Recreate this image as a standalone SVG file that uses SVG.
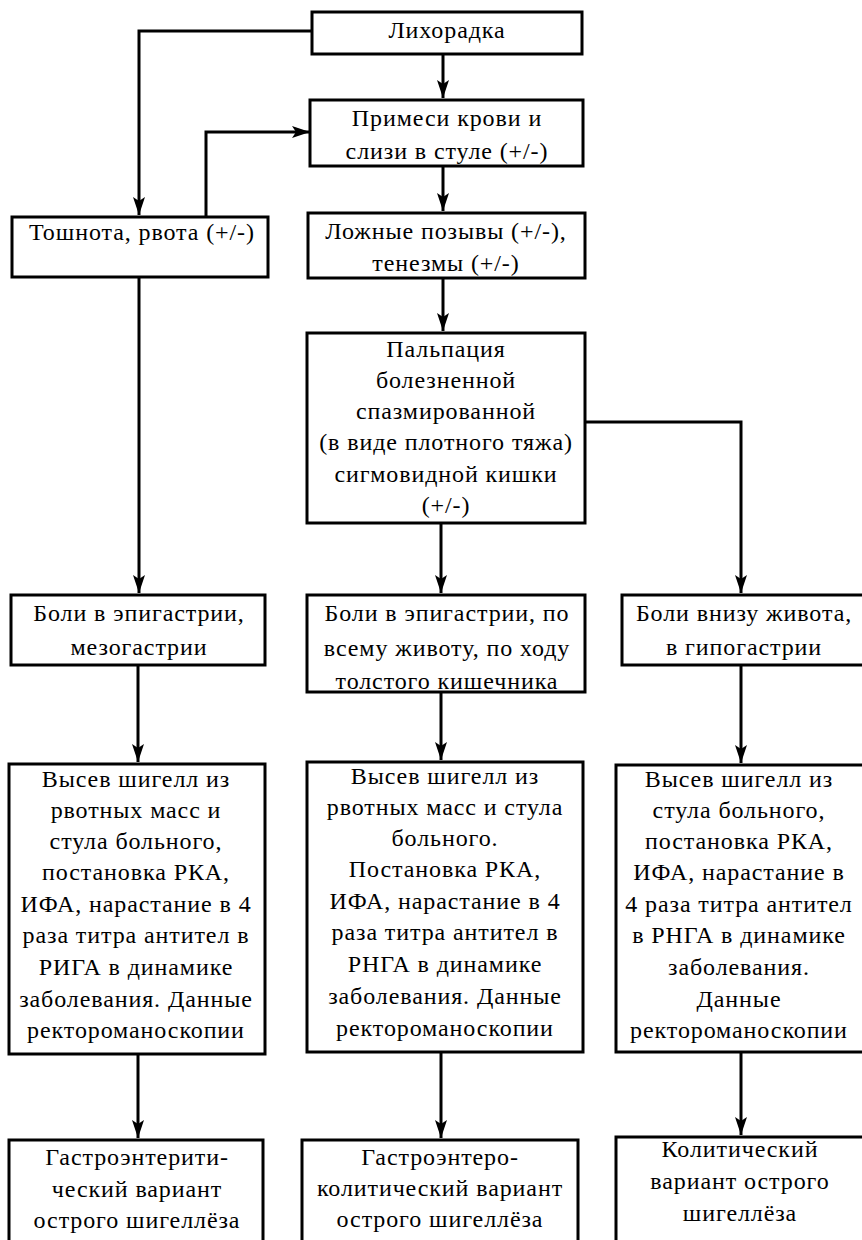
<svg xmlns="http://www.w3.org/2000/svg" width="862" height="1240" viewBox="0 0 862 1240">
<style>
.box{fill:#fff;stroke:#000;stroke-width:3}
.t{font-family:"Liberation Serif","Times New Roman",serif;font-size:24px;text-anchor:middle;fill:#000;letter-spacing:0.9px}
.c{fill:none;stroke:#000;stroke-width:3}
</style>
<defs>
<marker id="ah" markerUnits="userSpaceOnUse" markerWidth="20" markerHeight="12" refX="18" refY="6" orient="auto">
<path d="M0,0 L18,6 L0,12 L4,6 z" fill="#000"/>
</marker>
</defs>
<rect width="862" height="1240" fill="#fff"/>
<g id="connectors">
<path class="c" d="M312,31 H139 V215" marker-end="url(#ah)"/>
<path class="c" d="M443,54 V98" marker-end="url(#ah)"/>
<path class="c" d="M206,217 V132 H310" marker-end="url(#ah)"/>
<path class="c" d="M443,166 V211" marker-end="url(#ah)"/>
<path class="c" d="M443,278 V331" marker-end="url(#ah)"/>
<path class="c" d="M139,277 V593" marker-end="url(#ah)"/>
<path class="c" d="M441,523 V593" marker-end="url(#ah)"/>
<path class="c" d="M585,422 H741 V593" marker-end="url(#ah)"/>
<path class="c" d="M138,665 V762" marker-end="url(#ah)"/>
<path class="c" d="M441,692 V760" marker-end="url(#ah)"/>
<path class="c" d="M741,665 V763" marker-end="url(#ah)"/>
<path class="c" d="M138,1054 V1138" marker-end="url(#ah)"/>
<path class="c" d="M441,1052 V1138" marker-end="url(#ah)"/>
<path class="c" d="M741,1052 V1135" marker-end="url(#ah)"/>
</g>
<g id="n1">
<rect class="box" x="312" y="12" width="270" height="42"/>
<text class="t" x="447" y="38">Лихорадка</text>
</g>
<g id="n2">
<rect class="box" x="310" y="100" width="273" height="66"/>
<text class="t" x="447" y="126">Примеси крови и</text>
<text class="t" x="447" y="159">слизи в стуле (+/-)</text>
</g>
<g id="n3">
<rect class="box" x="12" y="217" width="256" height="60"/>
<text class="t" x="142" y="240">Тошнота, рвота (+/-)</text>
</g>
<g id="n4">
<rect class="box" x="308" y="213" width="277" height="65"/>
<text class="t" x="446" y="239">Ложные позывы (+/-),</text>
<text class="t" x="446" y="271">тенезмы (+/-)</text>
</g>
<g id="n5">
<rect class="box" x="307" y="333" width="278" height="190"/>
<text class="t" x="446" y="357">Пальпация</text>
<text class="t" x="446" y="388">болезненной</text>
<text class="t" x="446" y="419">спазмированной</text>
<text class="t" x="446" y="450">(в виде плотного тяжа)</text>
<text class="t" x="446" y="482">сигмовидной кишки</text>
<text class="t" x="446" y="513">(+/-)</text>
</g>
<g id="n6">
<rect class="box" x="11" y="595" width="254" height="70"/>
<text class="t" x="139" y="621">Боли в эпигастрии,</text>
<text class="t" x="139" y="655">мезогастрии</text>
</g>
<g id="n7">
<rect class="box" x="307" y="595" width="278" height="97"/>
<text class="t" x="447" y="621">Боли в эпигастрии, по</text>
<text class="t" x="447" y="656">всему животу, по ходу</text>
<text class="t" x="447" y="689">толстого кишечника</text>
</g>
<g id="n8">
<rect class="box" x="622" y="595" width="242" height="70"/>
<text class="t" x="744" y="621">Боли внизу живота,</text>
<text class="t" x="744" y="655">в гипогастрии</text>
</g>
<g id="n9">
<rect class="box" x="9" y="764" width="256" height="290"/>
<text class="t" x="136" y="787">Высев шигелл из</text>
<text class="t" x="136" y="818">рвотных масс и</text>
<text class="t" x="136" y="849">стула больного,</text>
<text class="t" x="136" y="880">постановка РКА,</text>
<text class="t" x="136" y="912">ИФА, нарастание в 4</text>
<text class="t" x="136" y="943">раза титра антител в</text>
<text class="t" x="136" y="975">РИГА в динамике</text>
<text class="t" x="136" y="1007">заболевания. Данные</text>
<text class="t" x="136" y="1038">ректороманоскопии</text>
</g>
<g id="n10">
<rect class="box" x="307" y="762" width="276" height="290"/>
<text class="t" x="445" y="784">Высев шигелл из</text>
<text class="t" x="445" y="815">рвотных масс и стула</text>
<text class="t" x="445" y="846">больного.</text>
<text class="t" x="445" y="877">Постановка РКА,</text>
<text class="t" x="445" y="909">ИФА, нарастание в 4</text>
<text class="t" x="445" y="940">раза титра антител в</text>
<text class="t" x="445" y="972">РНГА в динамике</text>
<text class="t" x="445" y="1004">заболевания. Данные</text>
<text class="t" x="445" y="1036">ректороманоскопии</text>
</g>
<g id="n11">
<rect class="box" x="616" y="765" width="248" height="287"/>
<text class="t" x="739" y="787">Высев шигелл из</text>
<text class="t" x="739" y="818">стула больного,</text>
<text class="t" x="739" y="849">постановка РКА,</text>
<text class="t" x="739" y="880">ИФА, нарастание в</text>
<text class="t" x="739" y="912">4 раза титра антител</text>
<text class="t" x="739" y="943">в РНГА в динамике</text>
<text class="t" x="739" y="975">заболевания.</text>
<text class="t" x="739" y="1007">Данные</text>
<text class="t" x="739" y="1038">ректороманоскопии</text>
</g>
<g id="n12">
<path class="box" d="M9,1242 V1140 H263 V1242"/>
<text class="t" x="137" y="1165">Гастроэнтерити-</text>
<text class="t" x="137" y="1197">ческий вариант</text>
<text class="t" x="137" y="1228">острого шигеллёза</text>
</g>
<g id="n13">
<path class="box" d="M302,1242 V1140 H578 V1242"/>
<text class="t" x="440" y="1165">Гастроэнтеро-</text>
<text class="t" x="440" y="1196">колитический вариант</text>
<text class="t" x="440" y="1227">острого шигеллёза</text>
</g>
<g id="n14">
<path class="box" d="M616,1242 V1137 H864"/>
<text class="t" x="740" y="1157">Колитический</text>
<text class="t" x="740" y="1189">вариант острого</text>
<text class="t" x="740" y="1221">шигеллёза</text>
</g>
</svg>
